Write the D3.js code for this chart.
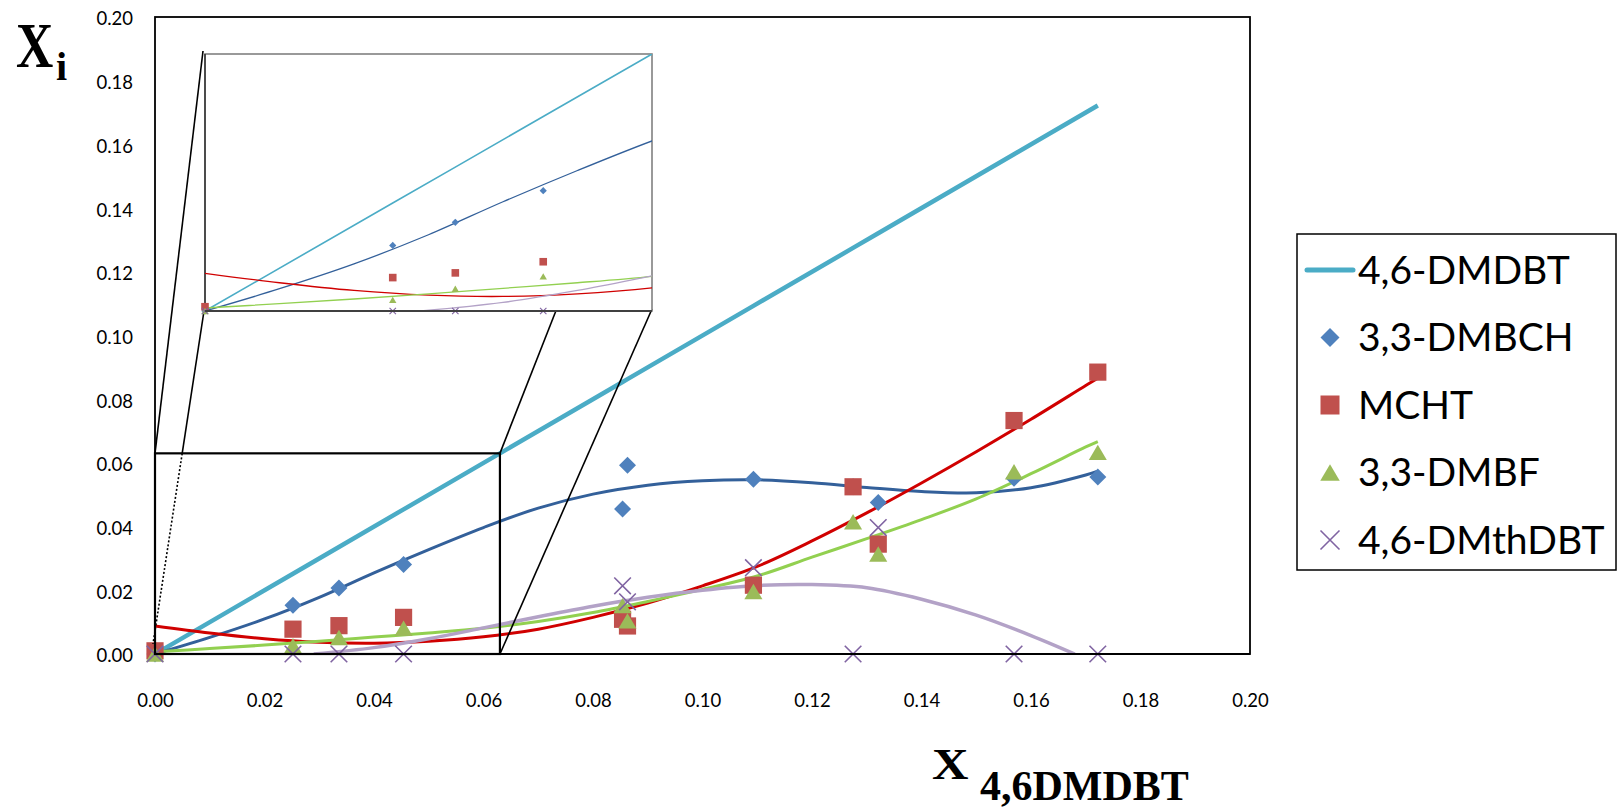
<!DOCTYPE html>
<html>
<head>
<meta charset="utf-8">
<script src="https://cdn.jsdelivr.net/npm/d3@7"></script>
<style>
  html, body { margin: 0; padding: 0; background: #fff; }
  svg { display: block; }
</style>
</head>
<body>
<svg id="chart" width="1619" height="808"></svg>
<script>
// ---- Data -------------------------------------------------------------
// Mole fraction of 4,6-DMDBT (x) and of each product (y)
const X_VALUES  = [0, 0.0252, 0.0336, 0.0454, 0.0854, 0.0863, 0.1093, 0.1275, 0.1321, 0.1569, 0.1722];
const DMDBT     = X_VALUES.slice();                       // reference line, y = x
const DMBCH     = [0, 0.0153, 0.0207, 0.0281, 0.0455, 0.0593, 0.0549, 0.0525, 0.0476, 0.0552, 0.0556];
const MCHT      = [0.0010, 0.0078, 0.0089, 0.0115, 0.0109, 0.0088, 0.0216, 0.0525, 0.0345, 0.0733, 0.0885];
const DMBF      = [0, 0.0026, 0.0052, 0.0081, 0.0152, 0.0104, 0.0196, 0.0415, 0.0314, 0.0572, 0.0633];
const DMTHDBT   = [0, 0, 0, 0, 0.0214, 0.0164, 0.0271, 0, 0.0397, 0, 0];

// Trend curves, sampled along x
const TREND_X       = [0, 0.01, 0.02, 0.03, 0.04, 0.05, 0.06, 0.07, 0.08, 0.09, 0.10, 0.11, 0.12, 0.13, 0.14, 0.15, 0.16, 0.17, 0.1722];
const TREND_DMBCH   = [0, 0.0052, 0.0110, 0.0178, 0.0255, 0.0328, 0.0397, 0.0458, 0.0502, 0.0530, 0.0544, 0.0547, 0.0538, 0.0523, 0.0510, 0.0506, 0.0522, 0.0562, 0.0574];
const TREND_MCHT    = [0.0088, 0.0066, 0.0048, 0.0037, 0.0034, 0.0040, 0.0054, 0.0078, 0.0115, 0.0160, 0.0214, 0.0275, 0.0355, 0.0443, 0.0537, 0.0635, 0.0737, 0.0843, 0.0866];
const TREND_DMBF    = [0.0007, 0.0017, 0.0028, 0.0040, 0.0053, 0.0066, 0.0081, 0.0102, 0.0130, 0.0165, 0.0203, 0.0245, 0.0304, 0.0362, 0.0422, 0.0487, 0.0566, 0.0650, 0.0667];
const TREND_X_THDBT = [0.029, 0.04, 0.05, 0.06, 0.07, 0.08, 0.09, 0.10, 0.11, 0.12, 0.13, 0.14, 0.15, 0.16, 0.168];
const TREND_DMTHDBT = [0, 0.0020, 0.0048, 0.0082, 0.0117, 0.0150, 0.0178, 0.0200, 0.0215, 0.0218, 0.0208, 0.0172, 0.0122, 0.0058, 0];

const SERIES_NAMES = ["4,6-DMDBT", "3,3-DMBCH", "MCHT", "3,3-DMBF", "4,6-DMthDBT"];
const X_TICKS = [0, 0.02, 0.04, 0.06, 0.08, 0.10, 0.12, 0.14, 0.16, 0.18, 0.20];
const Y_TICKS = [0, 0.02, 0.04, 0.06, 0.08, 0.10, 0.12, 0.14, 0.16, 0.18, 0.20];
const ZOOM_BOX   = 0.063;   // extent of the magnified region on the main axes
const INSET_MAX  = 0.06;    // axis range shown inside the magnifier

// ---- Styling ----------------------------------------------------------
const COL = {
  cyan: "#4BACC6", diamond: "#4F81BD", square: "#C0504D", tri: "#9BBB59", cross: "#8064A2",
  tBlue: "#33609A", tRed: "#D00000", tGreen: "#92D050", tPurple: "#B3A2C7"
};
const FONT = "Lato, 'Open Sans', sans-serif";
const SERIF = "'Liberation Serif', 'DejaVu Serif', serif";

const svg = d3.select("#chart");
const M = { left: 155, right: 1250, top: 17, bottom: 654 };

const x = d3.scaleLinear().domain([0, 0.2]).range([M.left, M.right]);
const y = d3.scaleLinear().domain([0, 0.2]).range([M.bottom, M.top]);

// Inset (magnifier) scales
const IN = { left: 205, right: 652, top: 54, bottom: 311 };
const xi = d3.scaleLinear().domain([0, INSET_MAX]).range([IN.left, IN.right]);
const yi = d3.scaleLinear().domain([0, INSET_MAX]).range([IN.bottom, IN.top]);

const defs = svg.append("defs");
defs.append("clipPath").attr("id", "clipMain").append("rect")
  .attr("x", M.left).attr("y", M.top).attr("width", M.right - M.left).attr("height", M.bottom - M.top);
defs.append("clipPath").attr("id", "clipInset").append("rect")
  .attr("x", IN.left).attr("y", IN.top).attr("width", IN.right - IN.left).attr("height", IN.bottom - IN.top);

// ---- Marker helpers ---------------------------------------------------
function marker(g, type, cx, cy, s, color, sw) {
  if (type === "diamond") {
    g.append("path").attr("d", `M${cx},${cy - s}L${cx + s},${cy}L${cx},${cy + s}L${cx - s},${cy}Z`).attr("fill", color);
  } else if (type === "square") {
    g.append("rect").attr("x", cx - s).attr("y", cy - s).attr("width", 2 * s).attr("height", 2 * s).attr("fill", color);
  } else if (type === "triangle") {
    const w = 2.05 * s, h = 1.75 * s;
    g.append("path").attr("d", `M${cx},${cy - h / 2}L${cx + w / 2},${cy + h / 2}L${cx - w / 2},${cy + h / 2}Z`).attr("fill", color);
  } else if (type === "cross") {
    g.append("path").attr("d", `M${cx - s},${cy - s}L${cx + s},${cy + s}M${cx + s},${cy - s}L${cx - s},${cy + s}`)
      .attr("stroke", color).attr("stroke-width", sw || 1.5).attr("fill", "none");
  }
}

const pointSeries = [
  { vals: DMBCH,   type: "diamond",  color: COL.diamond, main: 8.5, inset: 3.6 },
  { vals: MCHT,    type: "square",   color: COL.square,  main: 8.6, inset: 3.8 },
  { vals: DMBF,    type: "triangle", color: COL.tri,     main: 8.8, inset: 3.6 },
  { vals: DMTHDBT, type: "cross",    color: COL.cross,   main: 8.3, inset: 3.2 }
];

const trendSeries = [
  { xs: TREND_X,       ys: TREND_DMBCH,   color: COL.tBlue,   w: 3 },
  { xs: TREND_X,       ys: TREND_MCHT,    color: COL.tRed,    w: 3 },
  { xs: TREND_X,       ys: TREND_DMBF,    color: COL.tGreen,  w: 3 },
  { xs: TREND_X_THDBT, ys: TREND_DMTHDBT, color: COL.tPurple, w: 3.5 }
];

// ---- Main plot --------------------------------------------------------
svg.append("rect").attr("x", M.left).attr("y", M.top)
  .attr("width", M.right - M.left).attr("height", M.bottom - M.top)
  .attr("fill", "#fff").attr("stroke", "#000").attr("stroke-width", 1.8);

// Tick labels
const yAxis = d3.axisLeft(y).tickValues(Y_TICKS).tickFormat(d3.format(".2f")).tickSize(0).tickPadding(22);
svg.append("g").attr("transform", `translate(${M.left},2)`).call(yAxis)
  .call(g => g.select(".domain").remove())
  .selectAll("text").attr("font-family", FONT).attr("font-size", 18.5).attr("fill", "#000");
const xAxis = d3.axisBottom(x).tickValues(X_TICKS).tickFormat(d3.format(".2f")).tickSize(0).tickPadding(40);
svg.append("g").attr("transform", `translate(0,${M.bottom})`).call(xAxis)
  .call(g => g.select(".domain").remove())
  .selectAll("text").attr("font-family", FONT).attr("font-size", 18.5).attr("fill", "#000");

const mainG = svg.append("g").attr("clip-path", "url(#clipMain)");

// reference line y = x
mainG.append("path").datum(X_VALUES.map((v, i) => [v, DMDBT[i]]))
  .attr("d", d3.line().x(d => x(d[0])).y(d => y(d[1])))
  .attr("fill", "none").attr("stroke", COL.cyan).attr("stroke-width", 4.5);

trendSeries.forEach(t => {
  mainG.append("path").datum(t.xs.map((v, i) => [v, t.ys[i]]))
    .attr("d", d3.line().curve(d3.curveCatmullRom.alpha(0.5)).x(d => x(d[0])).y(d => y(d[1])))
    .attr("fill", "none").attr("stroke", t.color).attr("stroke-width", t.w).attr("stroke-linejoin", "round");
});

const markG = svg.append("g");
pointSeries.forEach(s => {
  s.vals.forEach((v, i) => marker(markG, s.type, x(X_VALUES[i]), y(v), s.main, s.color, 1.6));
});

// bottom axis line drawn over markers
svg.append("line").attr("x1", M.left).attr("x2", M.right).attr("y1", M.bottom).attr("y2", M.bottom)
  .attr("stroke", "#000").attr("stroke-width", 2);

// ---- Magnified region and connectors ----------------------------------
const bx0 = x(0), bx1 = x(ZOOM_BOX), by0 = y(0), by1 = y(ZOOM_BOX);
svg.append("rect").attr("x", bx0).attr("y", by1).attr("width", bx1 - bx0).attr("height", by0 - by1)
  .attr("fill", "none").attr("stroke", "#000").attr("stroke-width", 2.2);

const conn = svg.append("g").attr("stroke", "#000").attr("fill", "none");
// top-left corner of inset to top-left of box
conn.append("line").attr("x1", xi(0) - 2).attr("y1", yi(INSET_MAX) - 3).attr("x2", bx0).attr("y2", by1).attr("stroke-width", 1.6);
// bottom-left of inset to bottom-left of box: solid outside, dotted inside the box
{
  const ax = xi(0) - 1, ay = yi(0), cx = bx0 - 2, cy = by0 - 10;
  const t = (by1 - ay) / (cy - ay);
  const mx = ax + (cx - ax) * t;
  conn.append("line").attr("x1", ax).attr("y1", ay).attr("x2", mx).attr("y2", by1).attr("stroke-width", 1.6);
  conn.append("line").attr("x1", mx).attr("y1", by1).attr("x2", cx).attr("y2", cy)
    .attr("stroke-width", 1.6).attr("stroke-dasharray", "2,2");
}
// inset bottom edge to top-right of box
conn.append("line").attr("x1", xi(0.0472)).attr("y1", yi(0) - 2).attr("x2", bx1).attr("y2", by1).attr("stroke-width", 1.6);
// bottom-right of inset to bottom-right of box
conn.append("line").attr("x1", xi(INSET_MAX)).attr("y1", yi(0) - 2).attr("x2", bx1).attr("y2", by0).attr("stroke-width", 1.6);

// ---- Inset ------------------------------------------------------------
svg.append("rect").attr("x", IN.left).attr("y", IN.top)
  .attr("width", IN.right - IN.left).attr("height", IN.bottom - IN.top)
  .attr("fill", "#fff").attr("stroke", "#808080").attr("stroke-width", 1.6);
svg.append("line").attr("x1", IN.left).attr("x2", IN.left).attr("y1", IN.top).attr("y2", IN.bottom)
  .attr("stroke", "#222").attr("stroke-width", 1.3);

const insetG = svg.append("g").attr("clip-path", "url(#clipInset)");
insetG.append("path").datum(X_VALUES.map((v, i) => [v, DMDBT[i]]))
  .attr("d", d3.line().x(d => xi(d[0])).y(d => yi(d[1])))
  .attr("fill", "none").attr("stroke", COL.cyan).attr("stroke-width", 1.6);
trendSeries.forEach(t => {
  insetG.append("path").datum(t.xs.map((v, i) => [v, t.ys[i]]))
    .attr("d", d3.line().curve(d3.curveCatmullRom.alpha(0.5)).x(d => xi(d[0])).y(d => yi(d[1])))
    .attr("fill", "none").attr("stroke", t.color).attr("stroke-width", 1.3);
});
const insetMarks = svg.append("g");
pointSeries.forEach(s => {
  s.vals.forEach((v, i) => {
    if (X_VALUES[i] <= INSET_MAX) marker(insetMarks, s.type, xi(X_VALUES[i]), yi(v), s.inset, s.color, 1.1);
  });
});
svg.append("line").attr("x1", IN.left).attr("x2", IN.right).attr("y1", IN.bottom).attr("y2", IN.bottom)
  .attr("stroke", "#404040").attr("stroke-width", 2);

// ---- Axis titles ------------------------------------------------------
const yt = svg.append("g").attr("font-family", SERIF).attr("font-weight", "bold").attr("fill", "#000");
yt.append("text").attr("transform", "translate(16,67) scale(0.82,1)").attr("font-size", 63).text("X");
yt.append("text").attr("x", 56).attr("y", 80).attr("font-size", 40).text("i");

const xt = svg.append("g").attr("font-family", SERIF).attr("font-weight", "bold").attr("fill", "#000");
xt.append("text").attr("transform", "translate(932,779) scale(1.15,1)").attr("font-size", 44).text("X");
xt.append("text").attr("x", 980).attr("y", 800).attr("font-size", 42).text("4,6DMDBT");

// ---- Legend -----------------------------------------------------------
const L = { x: 1297, y: 234, w: 319, h: 336 };
const leg = svg.append("g");
leg.append("rect").attr("x", L.x).attr("y", L.y).attr("width", L.w).attr("height", L.h)
  .attr("fill", "#fff").attr("stroke", "#000").attr("stroke-width", 1.5);
const legendTypes = ["line", "diamond", "square", "triangle", "cross"];
const legendColors = [COL.cyan, COL.diamond, COL.square, COL.tri, COL.cross];
SERIES_NAMES.forEach((name, i) => {
  const cy = 270 + i * 67.5;
  if (legendTypes[i] === "line") {
    leg.append("line").attr("x1", 1307).attr("x2", 1353).attr("y1", cy).attr("y2", cy)
      .attr("stroke", legendColors[i]).attr("stroke-width", 5).attr("stroke-linecap", "round");
  } else {
    marker(leg, legendTypes[i], 1330, cy, 9.5, legendColors[i], 1.6);
  }
  leg.append("text").attr("x", 1358).attr("y", cy + 13.5)
    .attr("font-family", FONT).attr("font-size", 39).attr("fill", "#000").text(name);
});
</script>
</body>
</html>
